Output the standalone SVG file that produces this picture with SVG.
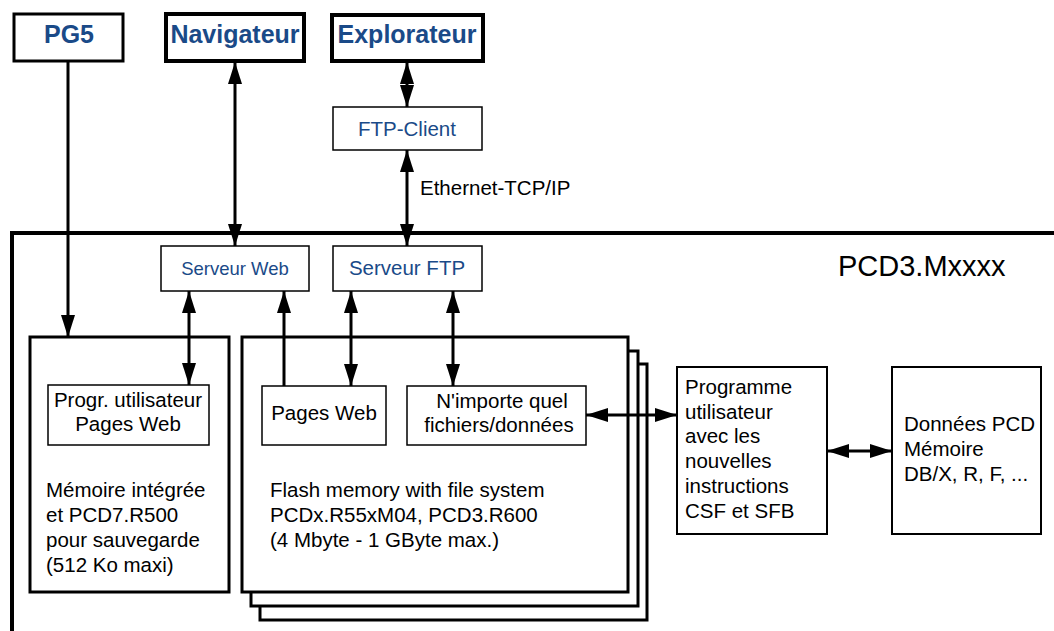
<svg xmlns="http://www.w3.org/2000/svg" width="1054" height="631" viewBox="0 0 1054 631">
<style>
  text { font-family: "Liberation Sans", Arial, sans-serif; fill: #000; }
  .title { font-size: 25px; font-weight: bold; fill: #1a4a88; text-anchor: middle; }
  .blue { font-size: 20.5px; fill: #1a4a88; text-anchor: middle; }
  .body { font-size: 20.5px; }
  .mid { text-anchor: middle; }
  .thin { fill: #fff; stroke: #000; stroke-width: 1.5; }
  .med { fill: #fff; stroke: #000; stroke-width: 2; }
  .thick { fill: #fff; stroke: #000; stroke-width: 3; }
  .heavy { fill: #fff; stroke: #000; stroke-width: 4; }
  .conn line { stroke: #000; stroke-width: 3; }
</style>
<defs>
  <marker id="ah" markerUnits="userSpaceOnUse" markerWidth="22" markerHeight="14" refX="22" refY="7" orient="auto-start-reverse">
    <path d="M0,0 L22,7 L0,14 z" fill="#000"/>
  </marker>
</defs>
<rect width="1054" height="631" fill="#fff"/>

<g id="pcd3-frame">
  <path d="M12,631 V233 H1054" fill="none" stroke="#000" stroke-width="4"/>
  <text x="838" y="276" style="font-size:29px">PCD3.Mxxxx</text>
</g>

<g id="pg5">
  <rect class="thick" x="14" y="14" width="109" height="47"/>
  <text class="title" x="69" y="43">PG5</text>
</g>
<g id="navigateur">
  <rect class="heavy" x="166" y="14" width="138" height="47"/>
  <text class="title" x="235" y="43">Navigateur</text>
</g>
<g id="explorateur">
  <rect class="heavy" x="332" y="15" width="151" height="46"/>
  <text class="title" x="407" y="43">Explorateur</text>
</g>

<g id="ftp-client">
  <rect class="thin" x="333" y="107" width="149" height="43"/>
  <text class="blue" x="407" y="136">FTP-Client</text>
</g>
<g id="serveur-web">
  <rect class="thin" x="161" y="246" width="148" height="45"/>
  <text class="blue" x="235" y="275" style="font-size:18.5px">Serveur Web</text>
</g>
<g id="serveur-ftp">
  <rect class="thin" x="333" y="246" width="149" height="45"/>
  <text class="blue" x="407" y="275">Serveur FTP</text>
</g>

<g id="memoire-integree">
  <rect class="thick" x="30" y="337" width="199" height="255"/>
  <text class="body" x="46" y="497">Mémoire intégrée</text>
  <text class="body" x="46" y="522">et PCD7.R500</text>
  <text class="body" x="46" y="547">pour sauvegarde</text>
  <text class="body" x="46" y="572">(512 Ko maxi)</text>
</g>
<g id="progr-utilisateur">
  <rect class="thin" x="48" y="385" width="161" height="60"/>
  <text class="body mid" x="128" y="407">Progr. utilisateur</text>
  <text class="body mid" x="128" y="431">Pages Web</text>
</g>

<g id="flash-memory">
  <rect class="thick" x="260" y="364" width="387" height="256"/>
  <rect class="thick" x="251" y="351" width="387" height="255"/>
  <rect class="thick" x="242" y="337" width="386" height="255"/>
  <text class="body" x="270" y="497">Flash memory with file system</text>
  <text class="body" x="270" y="522">PCDx.R55xM04, PCD3.R600</text>
  <text class="body" x="270" y="547">(4 Mbyte - 1 GByte max.)</text>
</g>
<g id="pages-web">
  <rect class="thin" x="262" y="386" width="124" height="59"/>
  <text class="body mid" x="324" y="420">Pages Web</text>
</g>
<g id="fichiers">
  <rect class="thin" x="407" y="386" width="179" height="59"/>
  <text class="body mid" x="502" y="408">N'importe quel</text>
  <text class="body mid" x="499" y="432">fichiers/données</text>
</g>

<g id="programme">
  <rect class="med" x="677" y="367" width="150" height="167"/>
  <text class="body" x="685" y="394">Programme</text>
  <text class="body" x="685" y="419">utilisateur</text>
  <text class="body" x="685" y="443">avec les</text>
  <text class="body" x="685" y="468">nouvelles</text>
  <text class="body" x="685" y="493">instructions</text>
  <text class="body" x="685" y="518">CSF et SFB</text>
</g>
<g id="donnees">
  <rect class="med" x="892" y="367" width="149" height="167"/>
  <text class="body" x="904" y="431">Données PCD</text>
  <text class="body" x="904" y="456">Mémoire</text>
  <text class="body" x="904" y="481">DB/X, R, F, ...</text>
</g>

<g id="connectors" class="conn">
  <line x1="68" y1="61" x2="68" y2="337" marker-end="url(#ah)"/>
  <line x1="235" y1="62" x2="235" y2="246" marker-start="url(#ah)" marker-end="url(#ah)"/>
  <line x1="407" y1="62" x2="407" y2="107" marker-start="url(#ah)" marker-end="url(#ah)"/>
  <line x1="407" y1="150" x2="407" y2="246" marker-start="url(#ah)" marker-end="url(#ah)"/>
  <line x1="189" y1="291" x2="189" y2="385" marker-start="url(#ah)" marker-end="url(#ah)"/>
  <line x1="284" y1="386" x2="284" y2="291" marker-end="url(#ah)"/>
  <line x1="351" y1="291" x2="351" y2="386" marker-start="url(#ah)" marker-end="url(#ah)"/>
  <line x1="453" y1="291" x2="453" y2="386" marker-start="url(#ah)" marker-end="url(#ah)"/>
  <line x1="586" y1="415" x2="677" y2="415" marker-start="url(#ah)" marker-end="url(#ah)"/>
  <line x1="827" y1="451" x2="892" y2="451" marker-start="url(#ah)" marker-end="url(#ah)"/>
  <text x="420" y="195" class="body">Ethernet-TCP/IP</text>
</g>
</svg>
